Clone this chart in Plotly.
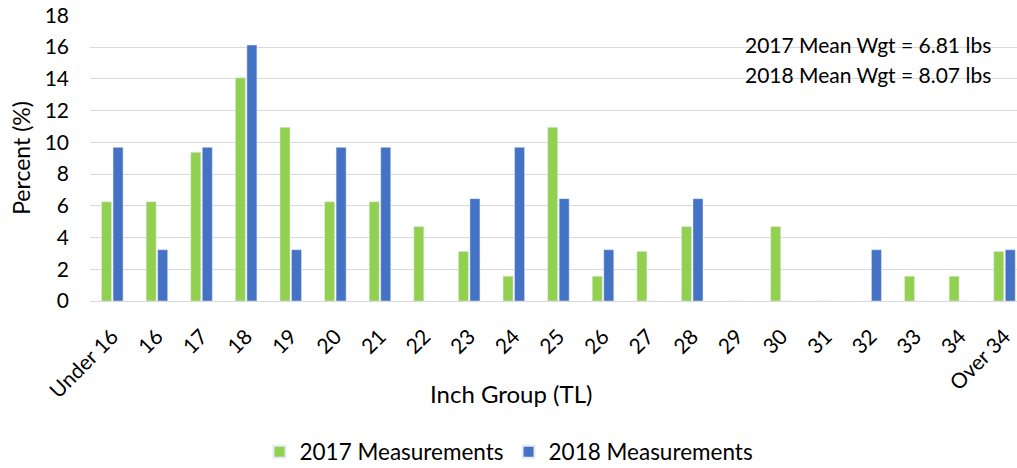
import plotly.graph_objects as go

categories = ["Under 16", "16", "17", "18", "19", "20", "21", "22", "23", "24", "25",
              "26", "27", "28", "29", "30", "31", "32", "33", "34", "Over 34"]
values_2017 = [6.25, 6.25, 9.375, 14.06, 10.94, 6.25, 6.25, 4.69, 3.125, 1.56, 10.94,
               1.56, 3.125, 4.69, 0, 4.69, 0, 0, 1.56, 1.56, 3.125]
values_2018 = [9.68, 3.23, 9.68, 16.13, 3.23, 9.68, 9.68, 0, 6.45, 9.68, 6.45,
               3.23, 0, 6.45, 0, 0, 0, 3.23, 0, 0, 3.23]
y_ticks = [0, 2, 4, 6, 8, 10, 12, 14, 16, 18]
notes = ["2017 Mean Wgt = 6.81 lbs", "2018 Mean Wgt = 8.07 lbs"]
x_title = "Inch Group (TL)"

FONT = "Lato"

fig = go.Figure()
fig.add_trace(go.Bar(x=categories, y=values_2017, name="2017 Measurements",
                     marker=dict(color="#92d050")))
fig.add_trace(go.Bar(x=categories, y=values_2018, name="2018 Measurements",
                     marker=dict(color="#4472c4")))

fig.update_layout(
    width=1017, height=468,
    margin=dict(l=90, r=0, t=15, b=167, autoexpand=False),
    plot_bgcolor="white", paper_bgcolor="white",
    barmode="group", bargap=0.484, bargroupgap=0.13,
    font=dict(family=FONT, color="#000000", size=21),
    showlegend=True,
    legend=dict(orientation="h", x=0.452, xanchor="center", y=-0.528, yanchor="middle",
                font=dict(size=22.5), traceorder="normal", itemsizing="constant"),
    annotations=[
        dict(text=notes[0], xref="paper", yref="paper", x=0.839, y=0.897,
             xanchor="center", yanchor="middle", showarrow=False,
             font=dict(size=21, family=FONT)),
        dict(text=notes[1], xref="paper", yref="paper", x=0.839, y=0.793,
             xanchor="center", yanchor="middle", showarrow=False,
             font=dict(size=21, family=FONT)),
        dict(text=x_title, xref="paper", yref="paper", x=0.454, y=-0.325,
             xanchor="center", yanchor="middle", showarrow=False,
             font=dict(size=24, family=FONT)),
    ],
)
fig.update_xaxes(range=[-0.5, 20.28], tickangle=-45, tickfont=dict(size=21),
                 showline=True, linecolor="#d9d9d9", linewidth=1, ticks="",
                 automargin=False, ticklabelstandoff=14, ticklabeloverflow="allow")
fig.update_yaxes(range=[0, 18.02], tickvals=y_ticks, tickfont=dict(size=21),
                 showgrid=True, gridcolor="#d9d9d9", gridwidth=1, zeroline=False,
                 automargin=False, ticklabelstandoff=20, ticklabeloverflow="allow",
                 title=dict(text="Percent (%)", font=dict(size=23), standoff=7),
                 ticks="")

# remove the default 8px page margin so the figure fills the window exactly
fig.write_html("out.html", config={"displayModeBar": False},
               post_script="document.body.style.margin='0';document.body.style.overflow='hidden';")
